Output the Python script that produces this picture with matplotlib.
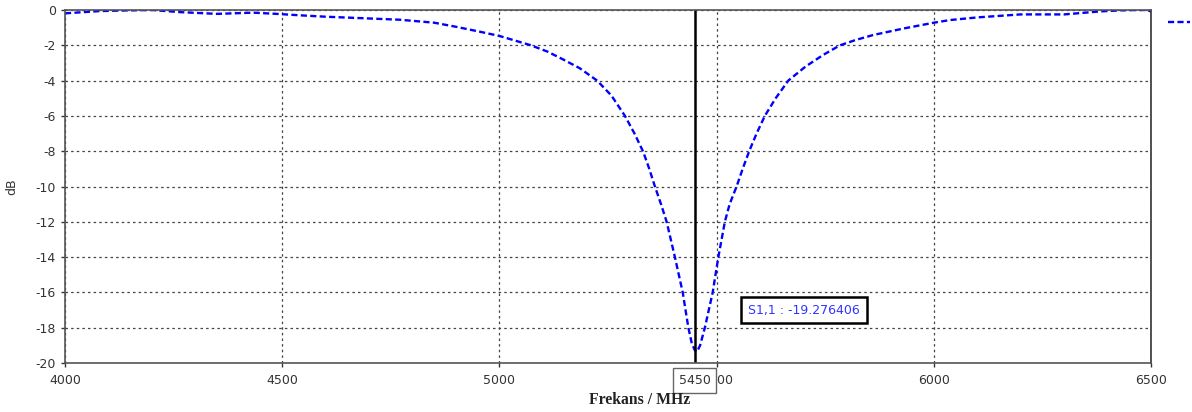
import matplotlib
matplotlib.use("Agg")
import matplotlib.pyplot as plt

freq = [4000, 4080, 4150, 4200, 4265, 4350, 4433, 4495, 4540, 4600, 4700, 4770, 4850,
        4900, 4955, 5000, 5070, 5110, 5145, 5185, 5225, 5258, 5289, 5311, 5331, 5345,
        5358, 5372, 5385, 5404, 5422, 5435, 5443, 5450, 5455, 5462, 5473, 5491, 5504,
        5519, 5530, 5546, 5560, 5575, 5592, 5611, 5636, 5665, 5705, 5745, 5784, 5820,
        5860, 5930, 6000, 6037, 6100, 6200, 6300, 6383, 6430, 6470, 6490, 6500]
s11 = [-0.19, -0.06, -0.02, 0.0, -0.12, -0.22, -0.15, -0.23, -0.3, -0.38, -0.48, -0.55, -0.72,
       -0.95, -1.23, -1.47, -1.98, -2.35, -2.78, -3.3, -4.0, -4.85, -6.0, -7.0, -8.03, -9.0,
       -10.0, -11.0, -12.0, -14.0, -16.0, -18.0, -18.9, -19.28, -19.36, -19.0, -18.0, -16.0, -14.0,
       -12.0, -11.0, -10.0, -9.0, -8.0, -7.0, -6.0, -5.0, -4.0, -3.2, -2.55, -2.0, -1.7,
       -1.42, -1.05, -0.72, -0.57, -0.42, -0.25, -0.25, -0.08, -0.02, 0.0, 0.0, -0.08]

xticks = [4000, 4500, 5000, 5500, 6000, 6500]
yticks = [0, -2, -4, -6, -8, -10, -12, -14, -16, -18, -20]
marker_freq = 5450
marker_value = -17.0
marker_label = "S1,1 : -19.276406"
label_pos = 5701

fig = plt.figure(figsize=(11.92, 4.12), dpi=100)
ax = fig.add_axes([65/1192, 49/412, 1086/1192, 353/412])

ax.plot(freq, s11, color="#0000ff", lw=1.7, linestyle=(0, (2.6, 1.4)))
ax.set_xlim(4000, 6500)
ax.set_ylim(-20, 0)
ax.set_xticks(xticks)
ax.set_xticklabels([str(t) for t in xticks])
ax.set_yticks(yticks)
ax.set_yticklabels([str(t) for t in yticks])
ax.grid(True, color="#444444", linestyle=(0, (2, 2.5)), lw=0.9)
ax.tick_params(labelsize=9, colors="#333333", length=3, width=1, labelcolor="#333333")
ax.tick_params(axis="x", pad=5)
for sp in ax.spines.values():
    sp.set_color("#555555")
    sp.set_linewidth(1.2)
ax.spines["right"].set_color("#333333")

ax.axvline(marker_freq, color="black", lw=1.8)
trans, va, ha = ax.get_xaxis_text1_transform(8)
ax.text(marker_freq, 0, str(marker_freq), transform=trans, ha="center", va=va, fontsize=9,
        color="#333333", zorder=10, clip_on=False,
        bbox=dict(boxstyle="square,pad=0.45", fc="white", ec="#666666", lw=1))

ax.text(label_pos, marker_value, marker_label, color="#3333ff", fontsize=9, ha="center",
        va="center", zorder=10,
        bbox=dict(boxstyle="square,pad=0.55", fc="white", ec="black", lw=1.8))

ax.set_ylabel("dB", fontsize=9, color="#333333")
ax.yaxis.set_label_coords(-0.043, 0.5)
fig.text(640/1192, 1 - 400/412, "Frekans / MHz", family="Liberation Serif", fontweight="bold",
         fontsize=11.3, ha="center", va="center", color="#222222")

fig.add_artist(plt.Line2D([1168/1192, 1190/1192], [1 - 22/412, 1 - 22/412], color="#0000ff",
                          lw=1.7, linestyle=(0, (2.6, 1.4)), transform=fig.transFigure))

fig.savefig("out.png", dpi=100)
